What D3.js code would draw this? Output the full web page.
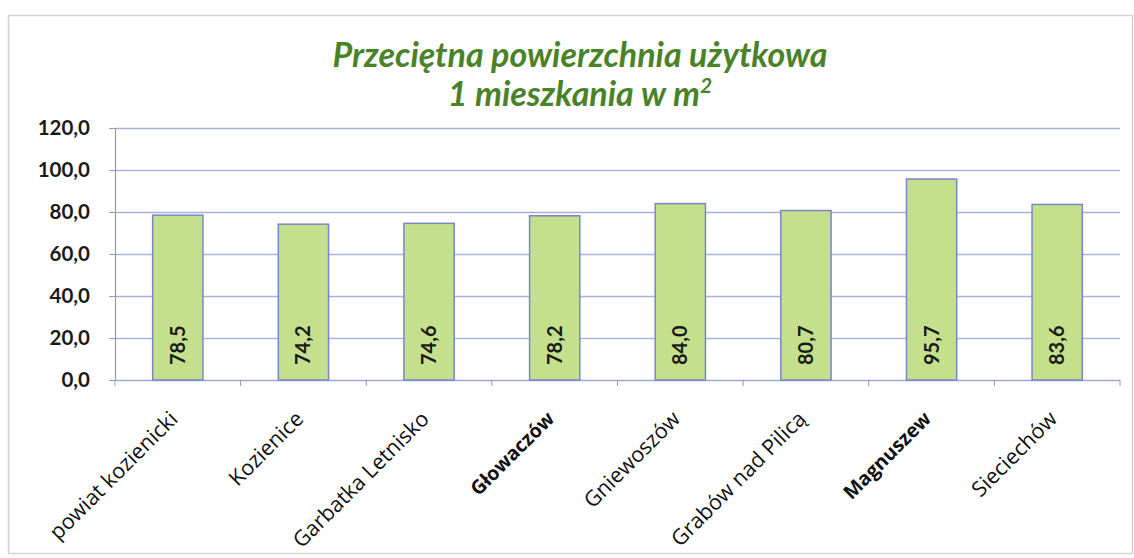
<!DOCTYPE html>
<html><head><meta charset="utf-8">
<script src="https://cdn.jsdelivr.net/npm/d3@7"></script>
<style>body{margin:0;background:#fff}</style>
</head><body>
<svg id="c" width="1134" height="558"></svg>
<script>
const categories = ["powiat kozienicki","Kozienice","Garbatka Letnisko","Głowaczów","Gniewoszów","Grabów nad Pilicą","Magnuszew","Sieciechów"];
const values = [78.5,74.2,74.6,78.2,84.0,80.7,95.7,83.6];
const yTicks = [0,20,40,60,80,100,120];
const boldCats = ["Głowaczów","Magnuszew"];
const titleLines = ["Przeciętna powierzchnia użytkowa","1 mieszkania w m"];

const svg = d3.select("#c");
const m={left:115,right:1120,top:128,bottom:380};
const fmt = v => v.toFixed(1).replace(".", ",");

svg.append("rect").attr("x",8.5).attr("y",15.5).attr("width",1124).attr("height",538)
  .attr("fill","#fff").attr("stroke","#d4d4d4").attr("stroke-width",1.5);

const x = d3.scaleBand().domain(categories).range([m.left,m.right]).paddingInner(0.6).paddingOuter(0.3);
const xb = d3.scaleBand().domain(categories).range([m.left,m.right]);
const y = d3.scaleLinear().domain([0,120]).range([m.bottom,m.top]);

// gridlines
svg.append("g").selectAll("line").data(yTicks.filter(d=>d>0)).join("line")
  .attr("x1",m.left).attr("x2",m.right).attr("y1",d=>y(d)+0.5).attr("y2",d=>y(d)+0.5)
  .attr("stroke",(d,i)=>i%2? "#a8b0d8":"#aab4e2").attr("stroke-width",1.3);

// y axis
const ya = svg.append("g").attr("transform",`translate(${m.left},0)`)
  .call(d3.axisLeft(y).tickValues(yTicks).tickFormat(fmt).tickSize(6).tickPadding(19));
ya.select(".domain").attr("stroke","#9a9a9a").attr("stroke-width",1.2);
ya.selectAll(".tick line").attr("stroke","#9a9a9a");
ya.selectAll("text").attr("font-family","Lato").attr("font-weight","bold").attr("font-size",20.5).attr("fill","#1a1a1a");

// x axis
const xa = svg.append("g").attr("transform",`translate(0,${m.bottom})`);
xa.append("line").attr("x1",m.left).attr("x2",m.right).attr("y1",0.5).attr("y2",0.5).attr("stroke","#9aaae0").attr("stroke-width",1.5);
const bounds = categories.map(c=>xb(c)).concat([m.right]);
xa.selectAll("line.t").data(bounds).join("line").attr("class","t")
  .attr("x1",d=>d).attr("x2",d=>d).attr("y1",0).attr("y2",6).attr("stroke","#9a9a9a");

// bars
svg.append("g").selectAll("rect").data(categories).join("rect")
  .attr("x",c=>x(c)).attr("width",x.bandwidth())
  .attr("y",(c,i)=>y(values[i])).attr("height",(c,i)=>y(0)-y(values[i]))
  .attr("fill","#c5e08c").attr("stroke","#7787c8").attr("stroke-width",1.5);

// value labels
svg.append("g").selectAll("text").data(categories).join("text")
  .attr("transform",c=>`translate(${x(c)+x.bandwidth()/2+7},${m.bottom-15}) rotate(-90)`)
  .attr("font-family","Lato").attr("font-weight","bold").attr("font-size",20).attr("fill","#1a1a1a")
  .text((c,i)=>fmt(values[i]));

// category labels
svg.append("g").selectAll("text").data(categories).join("text")
  .attr("transform",c=>`translate(${x(c)+x.bandwidth()/2-4},${m.bottom+35}) rotate(-45)`)
  .attr("text-anchor","end").attr("dy","0.35em")
  .attr("font-family","Open Sans").attr("font-size",c=>boldCats.includes(c)?19.5:21.5)
  .attr("font-weight",c=>boldCats.includes(c)?"bold":"normal")
  .attr("fill","#111").text(c=>c);

// title
const t = svg.append("text").attr("text-anchor","middle").attr("font-family","Lato")
  .attr("font-weight","bold").attr("font-style","italic").attr("font-size",34).attr("fill","#4a8228");
t.append("tspan").attr("x",580).attr("y",67).text(titleLines[0]);
const t2 = t.append("tspan").attr("x",580).attr("y",106).text(titleLines[1]);
t2.append("tspan").attr("dy",-13).attr("font-size",21).text("2");
</script>
</body></html>
